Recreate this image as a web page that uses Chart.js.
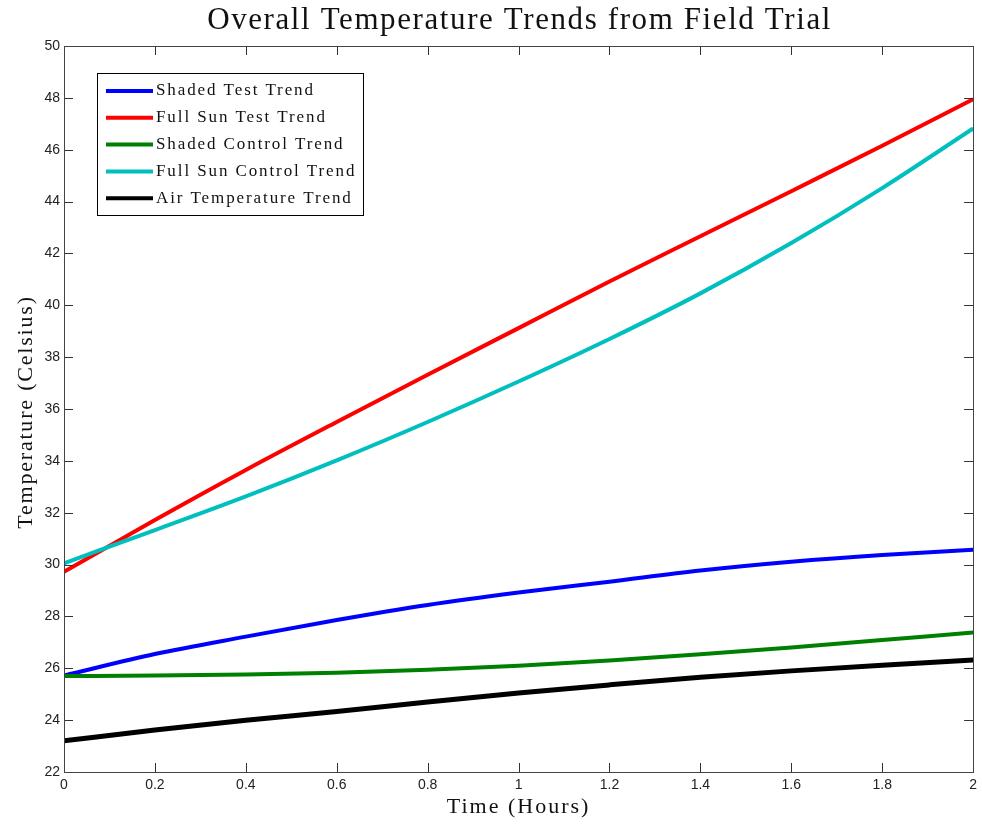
<!DOCTYPE html>
<html>
<head>
<meta charset="utf-8">
<title>Overall Temperature Trends from Field Trial</title>
<script src="https://cdn.jsdelivr.net/npm/chart.js@4/dist/chart.umd.min.js"></script>
<style>
    html, body { margin: 0; padding: 0; background: #fff; }
    #wrap { width: 982px; height: 826px; }
</style>
</head>
<body>
<div id="wrap"><canvas id="trends" width="982" height="826"></canvas></div>
<script>
// valeurs
const hours = [0, 0.2, 0.4, 0.6, 0.8, 1.0, 1.2, 1.4, 1.6, 1.8, 2.0]
const shadedTest = [25.72, 26.55, 27.22, 27.86, 28.44, 28.92, 29.34, 29.77, 30.11, 30.37, 30.57]
const fullSunTest = [29.72, 31.72, 33.65, 35.5, 37.32, 39.12, 40.92, 42.66, 44.4, 46.15, 47.95]
const shadedControl = [25.7, 25.72, 25.76, 25.83, 25.94, 26.1, 26.3, 26.54, 26.8, 27.09, 27.38]
const fullSunControl = [30.05, 31.33, 32.63, 34.02, 35.5, 37.06, 38.7, 40.46, 42.4, 44.52, 46.82]
const airTemp = [23.2, 23.62, 24.0, 24.33, 24.7, 25.05, 25.36, 25.65, 25.9, 26.12, 26.32]

const seriesNames = ['Shaded Test Trend', 'Full Sun Test Trend', 'Shaded Control Trend', 'Full Sun Control Trend', 'Air Temperature Trend']
const seriesColors = ['#0000ff', '#ff0000', '#008000', '#00bfbf', '#000000']
const xTickValues = [0, 0.2, 0.4, 0.6, 0.8, 1, 1.2, 1.4, 1.6, 1.8, 2]
const yTickValues = [22, 24, 26, 28, 30, 32, 34, 36, 38, 40, 42, 44, 46, 48, 50]

const serif = '"Liberation Serif", "DejaVu Serif", serif'
const sans = '"Liberation Sans", Arial, sans-serif'

const allSeries = [shadedTest, fullSunTest, shadedControl, fullSunControl, airTemp]
const datasets = allSeries.map((values, i) => ({
    label: seriesNames[i],
    data: values.map((v, k) => ({ x: hours[k], y: v })),
    borderColor: seriesColors[i],
    backgroundColor: seriesColors[i],
    borderWidth: i === 4 ? 5 : 4,
    pointRadius: 0,
    cubicInterpolationMode: 'monotone',
    fill: false,
    order: allSeries.length - i // les dernières séries par-dessus, comme Matlab
}))

// texte étiré à une largeur donnée (la police Garamond n'est pas dispo)
function spacedText(ctx, text, x, y, spacing) {
    ctx.letterSpacing = spacing + 'px'
    ctx.fillText(text, x, y)
    ctx.letterSpacing = '0px'
}

// cadre, graduations intérieures, titres et légende
const matlabLook = {
    id: 'matlabLook',
    afterDraw(chart) {
        const ctx = chart.ctx
        const a = chart.chartArea
        const xs = chart.scales.x
        const ys = chart.scales.y
        const tick = 9
        ctx.save()
        ctx.strokeStyle = '#333'
        ctx.lineWidth = 1
        ctx.beginPath()
        xTickValues.forEach((v) => {
            const px = Math.round(xs.getPixelForValue(v)) + 0.5
            ctx.moveTo(px, a.bottom); ctx.lineTo(px, a.bottom - tick)
            ctx.moveTo(px, a.top); ctx.lineTo(px, a.top + tick)
        })
        yTickValues.forEach((v) => {
            const py = Math.round(ys.getPixelForValue(v)) + 0.5
            ctx.moveTo(a.left, py); ctx.lineTo(a.left + tick, py)
            ctx.moveTo(a.right, py); ctx.lineTo(a.right - tick, py)
        })
        ctx.stroke()
        ctx.strokeStyle = '#444'
        ctx.strokeRect(Math.round(a.left) + 0.5, Math.round(a.top) + 0.5, Math.round(a.right - a.left), Math.round(a.bottom - a.top))

        // titres
        ctx.fillStyle = '#111'
        ctx.textAlign = 'center'
        ctx.textBaseline = 'middle'
        ctx.font = '31px ' + serif
        spacedText(ctx, 'Overall Temperature Trends from Field Trial', (a.left + a.right) / 2 + 1, 21, 1.6)
        ctx.font = '22px ' + serif
        spacedText(ctx, 'Time (Hours)', (a.left + a.right) / 2, 807, 2)
        ctx.save()
        ctx.translate(26, (a.top + a.bottom) / 2 + 3)
        ctx.rotate(-Math.PI / 2)
        spacedText(ctx, 'Temperature (Celsius)', 0, 0, 1.8)
        ctx.restore()

        // légende
        const lx = 97, ly = 73, lw = 266, lh = 142
        ctx.fillStyle = '#fff'
        ctx.fillRect(lx, ly, lw, lh)
        ctx.strokeStyle = '#000'
        ctx.strokeRect(lx + 0.5, ly + 0.5, lw, lh)
        ctx.font = '17px ' + serif
        ctx.textAlign = 'left'
        chart.data.datasets.forEach((ds, i) => {
            const rowY = 91 + i * 26.8
            ctx.strokeStyle = ds.borderColor
            ctx.lineWidth = 4
            ctx.beginPath()
            ctx.moveTo(106, rowY)
            ctx.lineTo(153, rowY)
            ctx.stroke()
            ctx.fillStyle = '#111'
            spacedText(ctx, ds.label, 156, rowY, 1.9)
        })
        ctx.restore()
    }
}

const ctx = document.getElementById('trends')
new Chart(ctx, {
    type: 'line',
    data: { datasets },
    options: {
        responsive: false,
        animation: false,
        layout: { padding: { top: 46, right: 6, left: 0, bottom: 0 } },
        plugins: {
            legend: { display: false },
            tooltip: { enabled: false },
            title: { display: false }
        },
        scales: {
            x: {
                type: 'linear',
                min: 0,
                max: 2,
                afterBuildTicks: (scale) => { scale.ticks = xTickValues.map((v) => ({ value: v })) },
                afterFit: (scale) => { scale.height = 54 },
                grid: { display: false, drawTicks: false },
                border: { display: false },
                ticks: {
                    padding: 5,
                    color: '#222',
                    font: { family: sans, size: 14 },
                    maxRotation: 0,
                    callback: (v) => String(Number(v.toFixed(1)))
                }
            },
            y: {
                min: 22,
                max: 50,
                afterBuildTicks: (scale) => { scale.ticks = yTickValues.map((v) => ({ value: v })) },
                afterFit: (scale) => { scale.width = 64 },
                grid: { display: false, drawTicks: false },
                border: { display: false },
                ticks: {
                    padding: 4,
                    color: '#222',
                    font: { family: sans, size: 14 }
                }
            }
        }
    },
    plugins: [matlabLook]
})
</script>
</body>
</html>
